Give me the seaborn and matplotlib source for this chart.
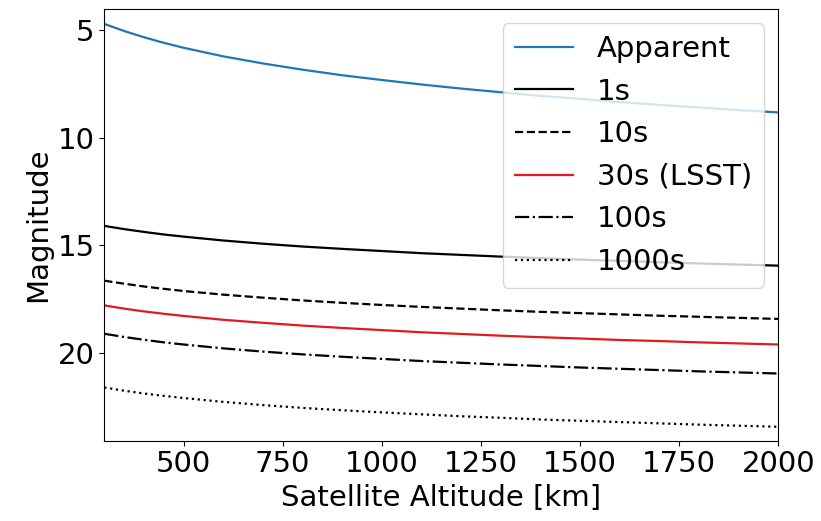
import pandas as pd
import matplotlib
matplotlib.use("Agg")
import matplotlib.pyplot as plt
import seaborn as sns

# Satellite altitude [km]
altitude = [300, 350, 400, 450, 500, 600, 700, 800, 900, 1000, 1100, 1200,
            1300, 1400, 1500, 1600, 1700, 1800, 1900, 2000]

# Magnitudes
apparent = [4.70, 5.03, 5.32, 5.58, 5.81, 6.21, 6.54, 6.83, 7.09, 7.31, 7.52, 7.71,
            7.88, 8.05, 8.19, 8.34, 8.47, 8.59, 8.71, 8.82]
exp_1s = [14.10, 14.25, 14.38, 14.50, 14.60, 14.78, 14.93, 15.06, 15.17, 15.27, 15.37, 15.45,
          15.53, 15.60, 15.67, 15.73, 15.79, 15.85, 15.90, 15.95]
exp_10s = [16.65, 16.79, 16.92, 17.03, 17.13, 17.30, 17.44, 17.57, 17.68, 17.78, 17.87, 17.95,
           18.03, 18.10, 18.16, 18.22, 18.28, 18.33, 18.38, 18.43]
exp_30s = [17.80, 17.95, 18.08, 18.19, 18.29, 18.47, 18.61, 18.74, 18.85, 18.95, 19.05, 19.13,
           19.21, 19.28, 19.34, 19.41, 19.46, 19.52, 19.57, 19.62]
exp_100s = [19.12, 19.27, 19.40, 19.52, 19.62, 19.80, 19.95, 20.08, 20.19, 20.29, 20.39, 20.47,
            20.55, 20.62, 20.69, 20.75, 20.81, 20.87, 20.92, 20.97]
exp_1000s = [21.62, 21.77, 21.90, 22.01, 22.11, 22.29, 22.44, 22.57, 22.68, 22.78, 22.87, 22.96,
             23.03, 23.11, 23.17, 23.23, 23.29, 23.35, 23.40, 23.45]

series = [
    ("Apparent", apparent, "#1f77b4", "-"),
    ("1s", exp_1s, "black", "-"),
    ("10s", exp_10s, "black", "--"),
    ("30s (LSST)", exp_30s, "#e31a1c", "-"),
    ("100s", exp_100s, "black", "-."),
    ("1000s", exp_1000s, "black", ":"),
]

plt.rcParams['font.size'] = 21

fig = plt.figure(figsize=(8.21, 5.21), dpi=100)
ax = fig.add_axes([0.127, 0.154, 0.821, 0.829])

for name, mags, color, ls in series:
    df = pd.DataFrame({'altitude': altitude, 'mag': mags})
    sns.lineplot(data=df, x='altitude', y='mag', color=color, linestyle=ls,
                 linewidth=1.6, label=name, ax=ax)

ax.set_xlim(300, 2000)
ax.set_ylim(24.1, 4.0)
ax.set_xticks([500, 750, 1000, 1250, 1500, 1750, 2000])
ax.set_yticks([5, 10, 15, 20])
ax.set_xlabel('Satellite Altitude [km]')
ax.set_ylabel('Magnitude')
ax.legend(loc='upper right', fontsize=21, handlelength=2.0)

fig.savefig("out.png", dpi=100)
